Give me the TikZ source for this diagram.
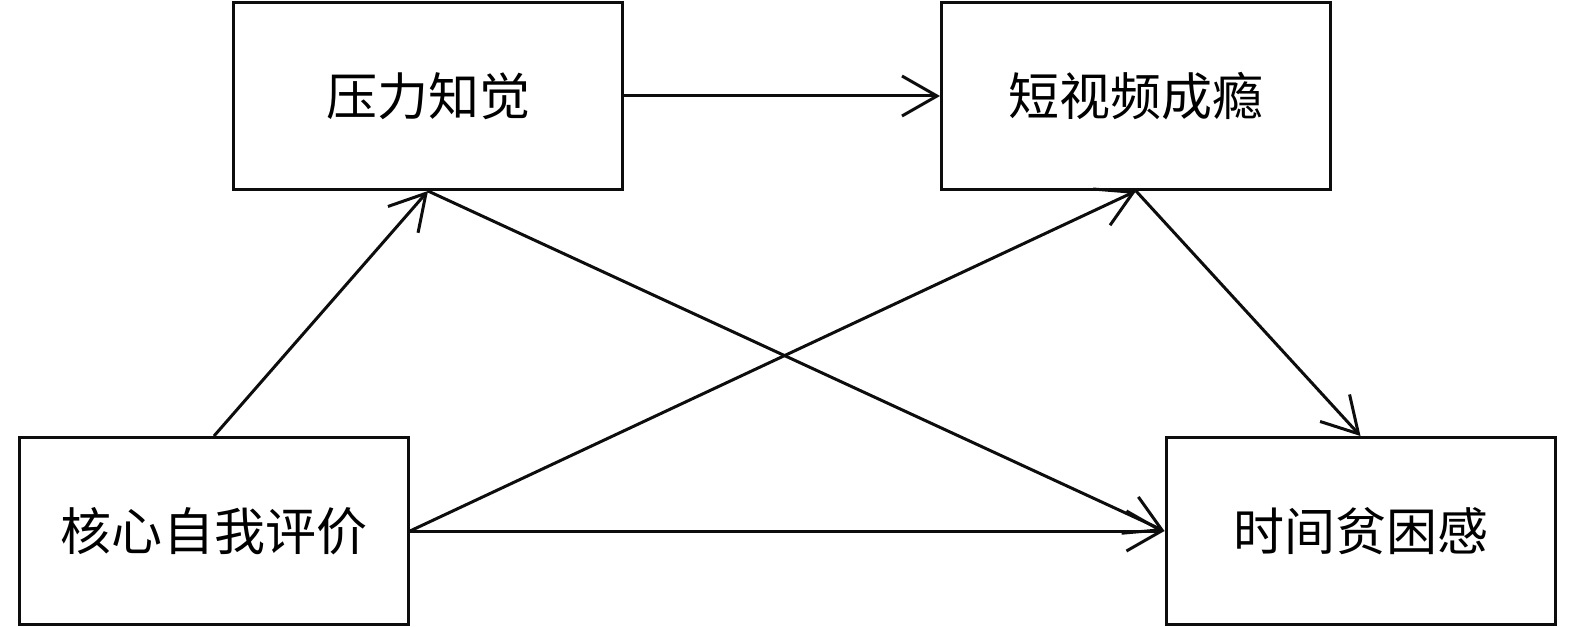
\documentclass[tikz,border=0pt]{standalone}
\usepackage{fontspec}
\newfontfamily\cjk{Noto Sans CJK SC}
\usetikzlibrary{arrows.meta}
\tikzset{
  box/.style={draw=black!95, line width=3bp, minimum width=389bp, minimum height=187bp, inner sep=0pt, font=\cjk\fontsize{51bp}{55bp}\selectfont},
  conn/.style={line width=3bp, draw=black!95, -{Straight Barb[length=35bp,width=40bp,line width=3bp]}},
}
\begin{document}
\begin{tikzpicture}[x=1bp,y=-1bp]
\useasboundingbox (0,0) rectangle (1575,627);
\node[box] (A) at (428,96) {压力知觉};
\node[box] (B) at (1136,96) {短视频成瘾};
\node[box] (C) at (214,531) {核心自我评价};
\node[box] (D) at (1360.5,531) {时间贫困感};
\draw[conn] (A.east) -- (B.west);
\draw[conn] (C.north) -- (A.south);
\draw[conn] (C.east) -- (B.south);
\draw[conn] (C.east) -- (D.west);
\draw[conn] (A.south) -- (D.west);
\draw[conn] (B.south) -- (D.north);
\end{tikzpicture}
\end{document}
